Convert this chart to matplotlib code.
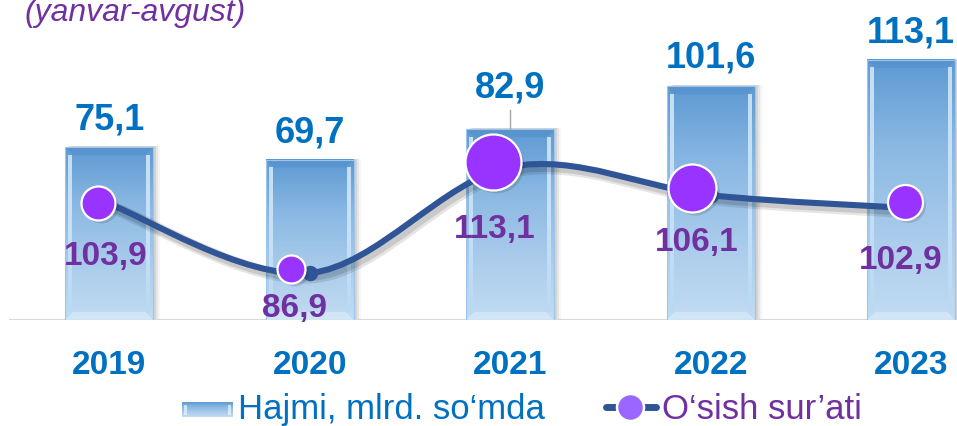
import numpy as np
import matplotlib
matplotlib.use('Agg')
import matplotlib.pyplot as plt
from matplotlib.patches import Rectangle, PathPatch, Polygon
from matplotlib.path import Path
from matplotlib.colors import LinearSegmentedColormap
import matplotlib.transforms as mtrans

# ---------------- data ----------------
years = ['2019', '2020', '2021', '2022', '2023']
volume = [75.1, 69.7, 82.9, 101.6, 113.1]        # Hajmi, mlrd. so'mda
growth = [103.9, 86.9, 113.1, 106.1, 102.9]      # O'sish sur'ati
subtitle = '(yanvar-avgust)'
legend_bar = 'Hajmi, mlrd. so\u2018mda'
legend_line = 'O\u2018sish sur\u2019ati'

# ---------------- styles ----------------
bar_lab_dy = [18, 17, 32, 19, 17]            # px above bar top (baseline)
mk_d = [34, 28, 56, 48, 35]                  # marker diameters px
mk_dx = [-11, -19, -17, -19, -6]             # marker offsets px
mk_dy = [1, 4, 5, 7, 6]
lab_dx = [-4, -15, -16, -14, -11]            # growth label offsets px
lab_dy = [-61, -44, -71, -56, -61]

BLUE = '#0070C0'
PURPLE = '#7030A0'
LINE = '#2F5597'
MARK = '#9933FF'


def fmt(v):
    return f'{v:.1f}'.replace('.', ',')


W, H, DPI = 957, 426, 100
plt.rcParams['font.family'] = ['Liberation Sans', 'DejaVu Sans']
fig = plt.figure(figsize=(W / DPI, H / DPI), dpi=DPI)


def px(dx, dy):
    return mtrans.ScaledTranslation(dx / DPI, dy / DPI, fig.dpi_scale_trans)


BASE = 320       # baseline pixel row
LEFT = 9
slot = 200.5
ppu = 2.30       # px per unit on bar axis

ax = fig.add_axes([LEFT / W, (H - BASE) / H, (W - LEFT) / W, BASE / H])
ax2 = ax.twinx()
x = np.arange(len(years))
xlim = (-0.5, -0.5 + (W - LEFT) / slot)
ylim1 = (0, BASE / ppu)
ylim2 = (75.3, 154.3)

bw = 88 / slot
cmap = LinearSegmentedColormap.from_list('bar', ['#C2DCF2', '#A9CBEB', '#8AB8E3', '#5D9AD3'])
grad = np.linspace(0, 1, 256).reshape(-1, 1)
hl_cmap = LinearSegmentedColormap.from_list('hl', ['#F2FBFF', '#D8F0FF', '#B5DAF5'])

ax.axhline(0, color='#D9D9D9', lw=1.5, zorder=1)

for xi, v in zip(x, volume):
    # soft shadow
    for off, al in [(7, 0.04), (5, 0.06), (3, 0.08)]:
        ax.add_patch(Rectangle((xi - bw / 2, 0), bw, v,
                               transform=ax.transData + px(off, 1),
                               color='black', alpha=al, lw=0, zorder=1.5))
    ax.imshow(grad, extent=[xi - bw / 2, xi + bw / 2, 0, v], origin='lower',
              cmap=cmap, aspect='auto', zorder=2, interpolation='bilinear')
    ex = 1 / slot
    ey = 1 / ppu
    # top bevel (darker)
    ax.add_patch(Polygon([[xi - bw / 2, v], [xi + bw / 2, v],
                          [xi + bw / 2 - 8 * ex, v - 8 * ey],
                          [xi - bw / 2 + 8 * ex, v - 8 * ey]],
                         closed=True, color='#4A86C5', alpha=0.35, lw=0, zorder=2.2))
    # bottom bevel (lighter)
    ax.add_patch(Polygon([[xi - bw / 2, 0], [xi + bw / 2, 0],
                          [xi + bw / 2 - 8 * ex, 8 * ey],
                          [xi - bw / 2 + 8 * ex, 8 * ey]],
                         closed=True, color='#DDEEFB', alpha=0.6, lw=0, zorder=2.2))
    # side highlights (brighter toward the bottom)
    for sx in (xi - bw / 2 + 3 * ex, xi + bw / 2 - 7 * ex):
        ax.imshow(grad[::-1], extent=[sx, sx + 3.5 * ex, 8 * ey, v - 8 * ey], origin='lower',
                  cmap=hl_cmap, aspect='auto', alpha=0.7, zorder=2.3,
                  interpolation='bilinear')
    ax.add_patch(Rectangle((xi - bw / 2, 0), bw, v, fill=False,
                           edgecolor='#9FC6EA', lw=0.8, zorder=2.4))

# bar value labels
for i, (xi, v) in enumerate(zip(x, volume)):
    ax.annotate(fmt(v), (xi, v), xytext=(0, bar_lab_dy[i]), textcoords='offset pixels',
                ha='center', va='baseline', fontsize=26, fontweight='bold',
                color=BLUE, zorder=9, annotation_clip=False)
    if bar_lab_dy[i] > 25:
        ax.plot([xi, xi], [v, v + (bar_lab_dy[i] - 13) / ppu], color='#A6A6A6',
                lw=1, zorder=3)

# year labels
tr = mtrans.blended_transform_factory(ax.transData, ax.transAxes)
for xi, yr in zip(x, years):
    ax.text(xi, -(374 - BASE) / BASE, yr, transform=tr, ha='center', va='baseline',
            fontsize=24, fontweight='bold', color=BLUE)

# smooth growth line (Catmull-Rom as cubic Bezier)
pts = np.column_stack([x, growth]).astype(float)
n = len(pts)
verts = [pts[0]]
codes = [Path.MOVETO]
for i in range(n - 1):
    p0 = pts[max(i - 1, 0)]
    p1 = pts[i]
    p2 = pts[i + 1]
    p3 = pts[min(i + 2, n - 1)]
    verts += [p1 + (p2 - p0) / 6, p2 - (p3 - p1) / 6, p2]
    codes += [Path.CURVE4] * 3
path = Path(verts, codes)

for off, al, lw in [(4, 0.10, 9), (3, 0.12, 7)]:
    ax2.add_patch(PathPatch(path, fill=False, edgecolor='black', alpha=al, lw=lw,
                            capstyle='round', transform=ax2.transData + px(off, -off),
                            zorder=4))
ax2.add_patch(PathPatch(path, fill=False, edgecolor=LINE, lw=4.4, capstyle='round',
                        joinstyle='round', zorder=5))
ax2.plot(x, growth, 'o', ms=14 * 0.72, color=LINE, zorder=5.5)

for i, (xi, g) in enumerate(zip(x, growth)):
    ax2.plot(xi, g, 'o', ms=mk_d[i] * 0.72, mfc='black', mec='none', alpha=0.12,
             transform=ax2.transData + px(mk_dx[i] + 3, mk_dy[i] - 3), zorder=6)
    ax2.plot(xi, g, 'o', ms=mk_d[i] * 0.72, mfc=MARK, mec='white', mew=1.6,
             transform=ax2.transData + px(mk_dx[i], mk_dy[i]), zorder=7)
    ax2.annotate(fmt(g), (xi, g), xytext=(lab_dx[i], lab_dy[i]), textcoords='offset pixels',
                 ha='center', va='baseline', fontsize=24, fontweight='bold',
                 color=PURPLE, zorder=9, annotation_clip=False)

ax.set_xlim(*xlim)
ax.set_ylim(*ylim1)
ax2.set_ylim(*ylim2)
ax.set_axis_off()
ax2.set_axis_off()

# ---------------- overlay: subtitle & legend ----------------
lax = fig.add_axes([0, 0, 1, 1], zorder=-1)
lax.set_axis_off()
lax.text(25, 21, subtitle, style='italic', fontsize=23, color=PURPLE,
         ha='left', va='baseline')

lax.imshow(grad[::-1], extent=[182, 233, 417, 402], cmap=cmap, aspect='auto',
           interpolation='bilinear')
lax.add_patch(Rectangle((184, 405), 3, 10, color='#E8F8FF', alpha=0.7, lw=0))
lax.add_patch(Rectangle((228, 405), 3, 10, color='#E8F8FF', alpha=0.7, lw=0))
lax.text(238, 419, legend_bar, fontsize=25, color=BLUE, ha='left', va='baseline')

lax.plot([606, 656], [407, 407], color=LINE, lw=5, solid_capstyle='round')
lax.plot(630, 407, 'o', ms=27 * 0.72, mfc='#9966FF', mec='white', mew=1.8)
lax.text(662, 419, legend_line, fontsize=25, color=PURPLE, ha='left', va='baseline')

lax.set_xlim(0, W)
lax.set_ylim(H, 0)

fig.savefig('out.png', dpi=DPI)
